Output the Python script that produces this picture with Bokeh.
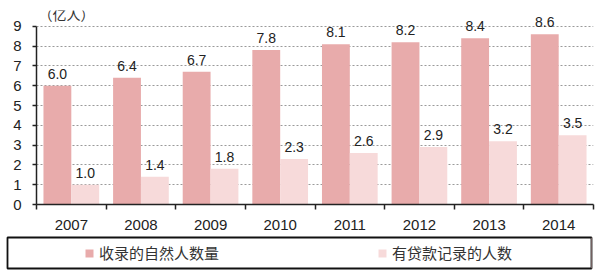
from bokeh.plotting import figure
from bokeh.models import ColumnDataSource, FixedTicker, Legend, LegendItem, Range1d, Label
from bokeh.layouts import column
from bokeh.embed import file_html
from bokeh.resources import INLINE

years = ["2007", "2008", "2009", "2010", "2011", "2012", "2013", "2014"]
natural_persons = [6.0, 6.4, 6.7, 7.8, 8.1, 8.2, 8.4, 8.6]
credit_records = [1.0, 1.4, 1.8, 2.3, 2.6, 2.9, 3.2, 3.5]
series_names = ["收录的自然人数量", "有贷款记录的人数"]
unit_label = "（亿人）"
y_ticks = list(range(0, 10))

dark = "#E8ABAB"
light = "#F7DADA"

idx = list(range(len(years)))
src = ColumnDataSource(dict(
    x1=[i - 0.2 for i in idx], x2=[i + 0.2 for i in idx],
    a=natural_persons, b=credit_records,
    la=[f"{v:.1f}" for v in natural_persons],
    lb=[f"{v:.1f}" for v in credit_records],
))

p = figure(width=600, height=232, output_backend="svg", toolbar_location=None,
           x_range=Range1d(-0.5, len(years) - 0.5), y_range=Range1d(0, 9.8),
           min_border_left=36, min_border_right=7, min_border_top=10, min_border_bottom=28)
p.frame_align = False
p.outline_line_color = None

p.add_layout(Label(x=0, x_units="screen", y=9.62, text=unit_label, text_baseline="middle",
                   text_font="Noto Sans CJK SC", text_font_size="14px", text_color="#333333",
                   x_offset=2))

p.vbar(x="x1", top="a", width=0.4, source=src, fill_color=dark, line_color=None)
p.vbar(x="x2", top="b", width=0.4, source=src, fill_color=light, line_color=None)
p.text(x="x1", y="a", text="la", source=src, text_align="center", text_baseline="bottom",
       y_offset=-7, text_font_size="14px", text_color="#222222")
p.text(x="x2", y="b", text="lb", source=src, text_align="center", text_baseline="bottom",
       y_offset=-7, text_font_size="14px", text_color="#222222")

p.xaxis.ticker = FixedTicker(ticks=idx, minor_ticks=[i - 0.5 for i in idx] + [len(years) - 0.5])
p.xaxis.major_label_overrides = {i: y for i, y in enumerate(years)}
p.xaxis.major_tick_line_color = None
p.xaxis.minor_tick_out = 5
p.xaxis.minor_tick_in = 0
p.xaxis.minor_tick_line_color = "#222222"
p.xaxis.minor_tick_line_width = 1.5
p.xaxis.axis_line_color = "#222222"
p.xaxis.axis_line_width = 1.5
p.xaxis.major_label_text_font_size = "15px"
p.xaxis.major_label_text_color = "#222222"
p.xaxis.major_label_standoff = 9

p.yaxis.ticker = FixedTicker(ticks=y_ticks)
p.yaxis.bounds = (0, 9)
p.yaxis.minor_tick_line_color = None
p.yaxis.major_tick_out = 4
p.yaxis.major_tick_in = 0
p.yaxis.major_tick_line_color = "#222222"
p.yaxis.major_tick_line_width = 1.5
p.yaxis.axis_line_color = "#222222"
p.yaxis.axis_line_width = 1.5
p.yaxis.major_label_text_font_size = "15px"
p.yaxis.major_label_text_color = "#222222"
p.yaxis.major_label_standoff = 11

p.xgrid.grid_line_color = None
p.ygrid.grid_line_color = "#9A9A9A"
p.ygrid.grid_line_dash = "2 2"
p.ygrid.grid_line_width = 1

# legend panel
p2 = figure(width=600, height=43, output_backend="svg", toolbar_location=None,
            x_range=Range1d(0, 1), y_range=Range1d(0, 1),
            min_border_left=7, min_border_right=9, min_border_top=5, min_border_bottom=7)
p2.frame_align = False
p2.axis.visible = False
p2.grid.visible = False
p2.outline_line_color = "#111111"
p2.outline_line_width = 1.8
r1 = p2.vbar(x=[10], top=[1], width=0.1, fill_color=dark, line_color=None)
r2 = p2.vbar(x=[10], top=[1], width=0.1, fill_color=light, line_color=None)
leg = Legend(items=[LegendItem(label=series_names[0], renderers=[r1]),
                    LegendItem(label=series_names[1], renderers=[r2])],
             orientation="horizontal", location=(77, 5), padding=0, spacing=0,
             glyph_width=10, glyph_height=10, label_height=20, label_width=278,
             label_standoff=5, border_line_color=None, background_fill_alpha=0,
             label_text_font="Noto Sans CJK SC", label_text_font_size="15px",
             label_text_color="#333333")
p2.add_layout(leg, "center")

layout = column(p, p2, spacing=0)
open("out.html", "w").write(file_html(layout, INLINE))
